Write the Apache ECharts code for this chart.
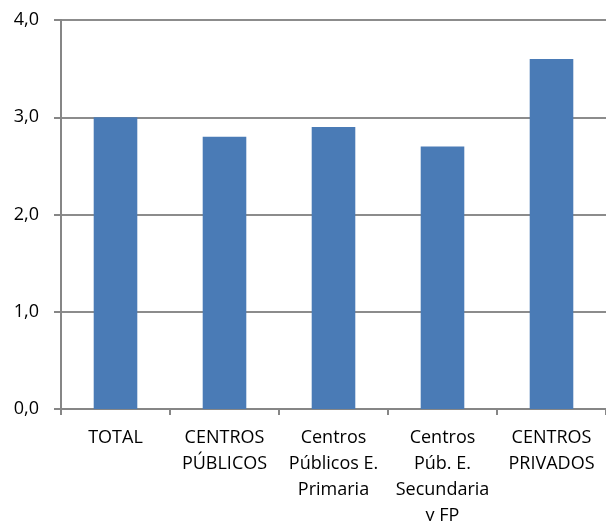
<!DOCTYPE html>
<html><head><meta charset="utf-8">
<script src="https://cdn.jsdelivr.net/npm/echarts@6/dist/echarts.min.js"></script>
<style>html,body{margin:0;padding:0;background:#fff}#c{width:606px;height:521px}</style>
</head><body><div id="c"></div>
<script>
var categories = ['TOTAL', 'CENTROS\nPÚBLICOS', 'Centros\nPúblicos E.\nPrimaria', 'Centros\nPúb. E.\nSecundaria\ny FP', 'CENTROS\nPRIVADOS'];
var values = [3.0, 2.8, 2.9, 2.7, 3.6];
var yTicks = { min: 0, max: 4, interval: 1 };

var chart = echarts.init(document.getElementById('c'), null, { renderer: 'canvas' });
chart.setOption({
  animation: false,
  grid: { left: 61, right: 0, top: 20, bottom: 112, containLabel: false, outerBoundsMode: 'none' },
  xAxis: {
    type: 'category', data: categories,
    axisLine: { lineStyle: { color: '#868686', width: 2 } },
    axisTick: { show: true, length: 6, lineStyle: { color: '#868686', width: 2 }, alignWithLabel: false },
    axisLabel: { color: '#000', fontFamily: 'Open Sans', fontSize: 18, lineHeight: 26, margin: 16, interval: 0 }
  },
  yAxis: {
    type: 'value', min: yTicks.min, max: yTicks.max, interval: yTicks.interval,
    axisLine: { show: true, lineStyle: { color: '#868686', width: 2 } },
    axisTick: { show: true, length: 7, lineStyle: { color: '#868686', width: 2 } },
    splitLine: { lineStyle: { color: '#8c8c8c', width: 2 } },
    axisLabel: { color: '#000', fontFamily: 'Open Sans', fontSize: 18, margin: 22,
      formatter: function (v) { return v.toFixed(1).replace('.', ','); } }
  },
  series: [{
    type: 'bar', data: values, barWidth: '40%',
    itemStyle: { color: '#4a7bb6' }
  }]
});
</script></body></html>
